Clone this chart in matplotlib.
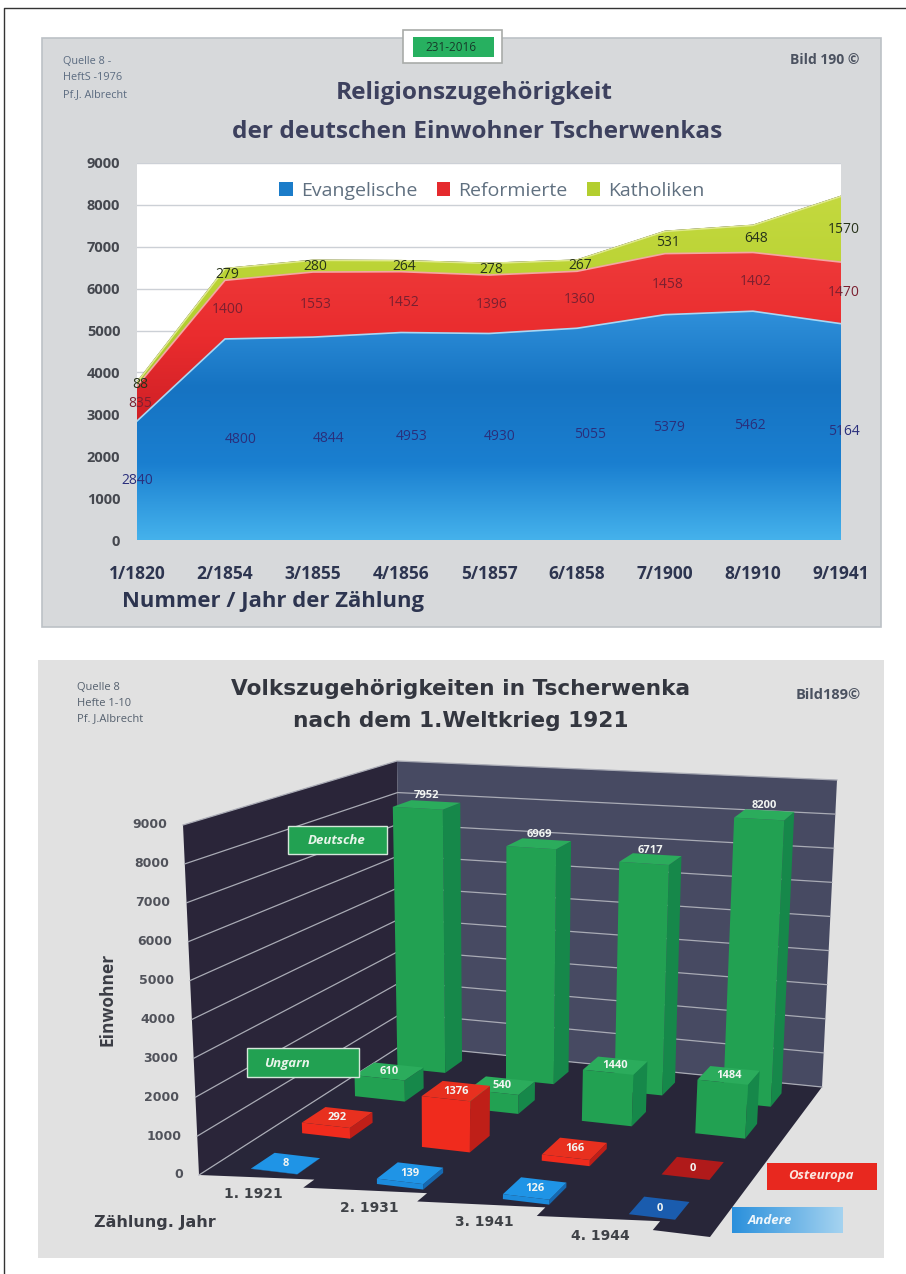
import numpy as np
import matplotlib
matplotlib.use("Agg")
from matplotlib import pyplot as plt
from matplotlib.colors import LinearSegmentedColormap
from matplotlib.patches import Polygon, Rectangle

# top chart data
jahre_top = ["1/1820", "2/1854", "3/1855", "4/1856", "5/1857", "6/1858", "7/1900", "8/1910", "9/1941"]
evangelische = [2840, 4800, 4844, 4953, 4930, 5055, 5379, 5462, 5164]
reformierte = [835, 1400, 1553, 1452, 1396, 1360, 1458, 1402, 1470]
katholiken = [88, 279, 280, 264, 278, 267, 531, 648, 1570]

# bottom chart data
jahre_bottom = ["1. 1921", "2. 1931", "3. 1941", "4. 1944"]
andere = [8, 139, 126, 0]
osteuropa = [292, 1376, 166, 0]
ungarn = [610, 540, 1440, 1484]
deutsche = [7952, 6969, 6717, 8200]

W, H = 906, 1274
plt.rcParams["font.family"] = ["Open Sans", "DejaVu Sans"]
fig = plt.figure(figsize=(W / 100, H / 100), dpi=100, facecolor="white")

bg = fig.add_axes([0, 0, 1, 1])
bg.set_xlim(0, W)
bg.set_ylim(H, 0)
bg.axis("off")

# page frame and panels
bg.plot([4, 4, W], [H, 8, 8], color="#333333", lw=1)
bg.add_patch(Rectangle((42, 38), 839, 589, fc="#d7d9db", ec="#bcc1c6", lw=1.2))
bg.add_patch(Rectangle((38, 660), 846, 598, fc="#e1e1e1", ec="none"))

# top panel texts
bg.add_patch(Rectangle((403, 30), 99, 33, fc="white", ec="#a9aca9", lw=1.2, zorder=3))
bg.add_patch(Rectangle((413, 37), 81, 20, fc="#27b060", ec="none", zorder=4))
bg.text(451, 47.5, "231-2016", ha="center", va="center", fontsize=8.5, color="#173a2a", zorder=5)
for y, s in zip([61, 78, 95], ["Quelle 8 -", "HeftS -1976", "Pf.J. Albrecht"]):
    bg.text(63, y, s, ha="left", va="center", fontsize=7.8, color="#5b6b80")
bg.text(825, 60, "Bild 190 ©", ha="center", va="center", fontsize=10, weight="bold", color="#4b5260")
bg.text(474, 93, "Religionszugehörigkeit", ha="center", va="center", fontsize=17.6, weight="bold", color="#3d415e")
bg.text(477, 132, "der deutschen Einwohner Tscherwenkas", ha="center", va="center", fontsize=17.6, weight="bold", color="#3d415e")
bg.text(122, 601, "Nummer / Jahr der Zählung", ha="left", va="center", fontsize=15.8, weight="bold", color="#2d3550")

# top chart
left, right, top, bottom = 137, 841, 163, 540
ax = fig.add_axes([left / W, 1 - bottom / H, (right - left) / W, (bottom - top) / H], facecolor="white")
x = np.arange(len(jahre_top))
layers = ax.stackplot(x, evangelische, reformierte, katholiken, colors=["#1b7cc9", "#e52a2e", "#b3ce2f"],
                      labels=["Evangelische", "Reformierte", "Katholiken"], zorder=2)
ev = np.array(evangelische)
re = np.array(reformierte)
ka = np.array(katholiken)
cum = [np.zeros(len(ev)), ev, ev + re, ev + re + ka]
gradients = [["#45b2ec", "#1a7fd0", "#1673c2", "#2f90da"],
             ["#cf2026", "#ea2c2e", "#ee3a3a"],
             ["#a6c72a", "#b9d233", "#c4d93f"]]
edge = ["#a9d8f4", "#f3a7a3", "#dfe98c"]
for i, poly in enumerate(layers):
    poly.set_facecolor("none")
    cmap = LinearSegmentedColormap.from_list("g%d" % i, gradients[i])
    im = ax.imshow(np.linspace(0, 1, 256).reshape(-1, 1), origin="lower", aspect="auto", cmap=cmap,
                   extent=[0, 8, cum[i].min(), cum[i + 1].max()], zorder=2)
    im.set_clip_path(poly.get_paths()[0], transform=ax.transData)
    ax.plot(x, cum[i + 1], color=edge[i], lw=1.2, zorder=3)

ax.set_xlim(0, 8)
ax.set_ylim(0, 9000)
ax.set_yticks(range(0, 9001, 1000))
ax.set_xticks(x)
ax.set_xticklabels(jahre_top)
ax.grid(axis="y", color="#ccd0d6", lw=1)
ax.set_axisbelow(True)
ax.tick_params(length=0)
ax.tick_params(axis="y", labelsize=10.5, labelcolor="#45484f", pad=12)
ax.tick_params(axis="x", labelsize=12.5, labelcolor="#2d3550", pad=18)
for lab in ax.get_xticklabels() + ax.get_yticklabels():
    lab.set_fontweight("bold")
for s in ax.spines.values():
    s.set_visible(False)

# value labels, the blue ones sit a bit off the points in the original
shift_ev = [0, 16, 16, 11, 11, 13, 4, -3, 3]
for i in x:
    ax.annotate(str(evangelische[i]), (i, ev[i] / 2), xytext=(shift_ev[i] * 0.72, 0), textcoords="offset points",
                ha="center", va="center", fontsize=10, color="#2a2f7c", zorder=5, annotation_clip=False)
    ax.annotate(str(reformierte[i]), (i, ev[i] + re[i] / 2), xytext=(2, 0), textcoords="offset points",
                ha="center", va="center", fontsize=10, color="#7b2030", zorder=5, annotation_clip=False)
    ax.annotate(str(katholiken[i]), (i, ev[i] + re[i] + ka[i] / 2), xytext=(2, 0), textcoords="offset points",
                ha="center", va="center", fontsize=10, color="#27331a", zorder=5, annotation_clip=False)

handles = [Rectangle((0, 0), 1, 1, fc=c) for c in ["#1b7cc9", "#e52a2e", "#b3ce2f"]]
ax.legend(handles, ["Evangelische", "Reformierte", "Katholiken"], ncol=3, frameon=False,
          loc="center", bbox_to_anchor=(492 / W, 1 - 191 / H), bbox_transform=fig.transFigure,
          fontsize=14, labelcolor="#607080", handlelength=0.7, handleheight=0.7,
          handletextpad=0.4, columnspacing=1.0)

# bottom panel texts
for y, s in zip([688, 703, 719], ["Quelle 8", "Hefte 1-10", "Pf. J.Albrecht"]):
    bg.text(77, y, s, ha="left", va="center", fontsize=8, color="#55606e")
bg.text(828, 695, "Bild189©", ha="center", va="center", fontsize=10.5, weight="bold", color="#4b5260")
bg.text(461, 689, "Volkszugehörigkeiten in Tscherwenka", ha="center", va="center", fontsize=15.6,
        weight="bold", family="DejaVu Sans", color="#33363f")
bg.text(461, 721, "nach dem 1.Weltkrieg 1921", ha="center", va="center", fontsize=15.6,
        weight="bold", family="DejaVu Sans", color="#33363f")


# the 3d chart, u runs along the years, v goes from front to back, h is the value
floor_px = np.array([[199, 1175], [710, 1237], [402, 1045], [822, 1087]], dtype=float)
ceil_px = np.array([[183, 825], [735, 872], [397, 761], [837, 780]], dtype=float)
HMAX = 9000


def project(u, v, h=0):
    def bil(c):
        return (1 - u) * (1 - v) * c[0] + u * (1 - v) * c[1] + (1 - u) * v * c[2] + u * v * c[3]
    t = h / HMAX
    return (1 - t) * bil(floor_px) + t * bil(ceil_px)


def quad(points, color, z):
    bg.add_patch(Polygon([project(*p) for p in points], closed=True, fc=color, ec="none", zorder=z))


# walls
quad([(0, 0, 0), (0, 1, 0), (0, 1, HMAX), (0, 0, HMAX)], "#2a2539", 6)
quad([(0, 1, 0), (1, 1, 0), (1, 1, HMAX), (0, 1, HMAX)], "#474a62", 6)

# floor with the stepped front edge
steps = [0.204, 0.427, 0.661, 0.888]
outline = [(0, 0, 0)]
for s in steps:
    outline += [(s, 0.06, 0), (s, 0, 0)]
outline += [(1, 0, 0), (1, 1, 0), (0, 1, 0)]
quad(outline, "#282639", 7)

# gridlines and y tick labels
for h in range(1000, HMAX + 1, 1000):
    pts = np.array([project(0, 0, h), project(0, 1, h), project(1, 1, h)])
    bg.plot(pts[:, 0], pts[:, 1], color="#a9abb5", lw=0.9, zorder=8)
for h in range(0, HMAX + 1, 1000):
    px = project(0, 0, h)
    bg.text(px[0] - 16, px[1], str(h), ha="right", va="center", fontsize=9, weight="bold",
            family="DejaVu Sans", color="#50525a", zorder=9)
pts = np.array([project(0, 0, 0), project(0, 1, 0), project(1, 1, 0)])
bg.plot(pts[:, 0], pts[:, 1], color="#a9abb5", lw=0.9, zorder=8)

# bars, back row first so that the front rows cover them
rows = [deutsche, ungarn, osteuropa, andere]
row_v = [0.89, 0.68, 0.41, 0.14]
row_du = [0.055, 0.055, 0.05, 0.046]
row_dv = [0.045, 0.05, 0.06, 0.06]
colors = [("#22a152", "#16884a", "#2bac5c"),
          ("#22a152", "#16884a", "#2bac5c"),
          ("#f02b1d", "#bf1f18", "#e8301f"),
          ("#1c8bdc", "#1668b0", "#1f94e6")]
zero_colors = [None, None, "#b01a1a", "#1a5cae"]
col_u = [0.125, 0.375, 0.625, 0.875]
z = 10
for r, values in enumerate(rows):
    v = row_v[r]
    du = row_du[r]
    dv = row_dv[r]
    for c, val in enumerate(values):
        u = col_u[c] - 0.008
        front, side, topc = colors[r]
        if val == 0:
            topc = zero_colors[r]
        u0, u1, v0, v1 = u - du, u + du, v - dv, v + dv
        quad([(u1, v0, 0), (u1, v1, 0), (u1, v1, val), (u1, v0, val)], side, z)
        quad([(u0, v0, 0), (u1, v0, 0), (u1, v0, val), (u0, v0, val)], front, z)
        quad([(u0, v0, val), (u1, v0, val), (u1, v1, val), (u0, v1, val)], topc, z)
        px = project(u, v, val)
        bg.text(px[0], px[1] - (9 if val > 5000 else 0), str(val), ha="center", va="center", fontsize=8,
                weight="bold", color="#f2f5f2", zorder=z + 1)
        z += 2

# year labels under the floor
for c, s in enumerate(jahre_bottom):
    px = project(col_u[c] * 0.905 - 0.007, 0, 0)
    bg.text(px[0], px[1] + 12, s, ha="center", va="center", fontsize=10, weight="bold",
            family="DejaVu Sans", color="#3f4247", zorder=9)

bg.text(155, 1222, "Zählung. Jahr", ha="center", va="center", fontsize=11.5, weight="bold",
        family="DejaVu Sans", color="#3b3d45")
bg.text(108, 999, "Einwohner", ha="center", va="center", rotation=90, fontsize=12.5, weight="bold", color="#3b3d45")

# series name boxes
bg.add_patch(Rectangle((288, 826), 99, 28, fc="#22a152", ec="#d5e7da", lw=1, zorder=70))
bg.text(337, 840, "Deutsche", ha="center", va="center", fontsize=9.5, weight="bold", style="italic", color="#e8f4ea", zorder=71)
bg.add_patch(Rectangle((247, 1048), 112, 29, fc="#22a152", ec="#d5e7da", lw=1, zorder=70))
bg.text(287, 1063, "Ungarn", ha="center", va="center", fontsize=9.5, weight="bold", style="italic", color="#e8f4ea", zorder=71)
bg.add_patch(Rectangle((767, 1163), 110, 27, fc="#e8281f", ec="none", zorder=70))
bg.text(821, 1176, "Osteuropa", ha="center", va="center", fontsize=9.5, weight="bold", style="italic", color="#fbe6e0", zorder=71)
blue_map = LinearSegmentedColormap.from_list("andere", ["#2a90dc", "#a5d3f0"])
bg.imshow(np.linspace(0, 1, 128).reshape(1, -1), extent=[732, 843, 1233, 1207], cmap=blue_map, aspect="auto", zorder=70)
bg.set_xlim(0, W)
bg.set_ylim(H, 0)
bg.text(770, 1220, "Andere", ha="center", va="center", fontsize=9.5, weight="bold", style="italic", color="#eef6fb", zorder=71)

fig.savefig("out.png", dpi=100, facecolor="white")
